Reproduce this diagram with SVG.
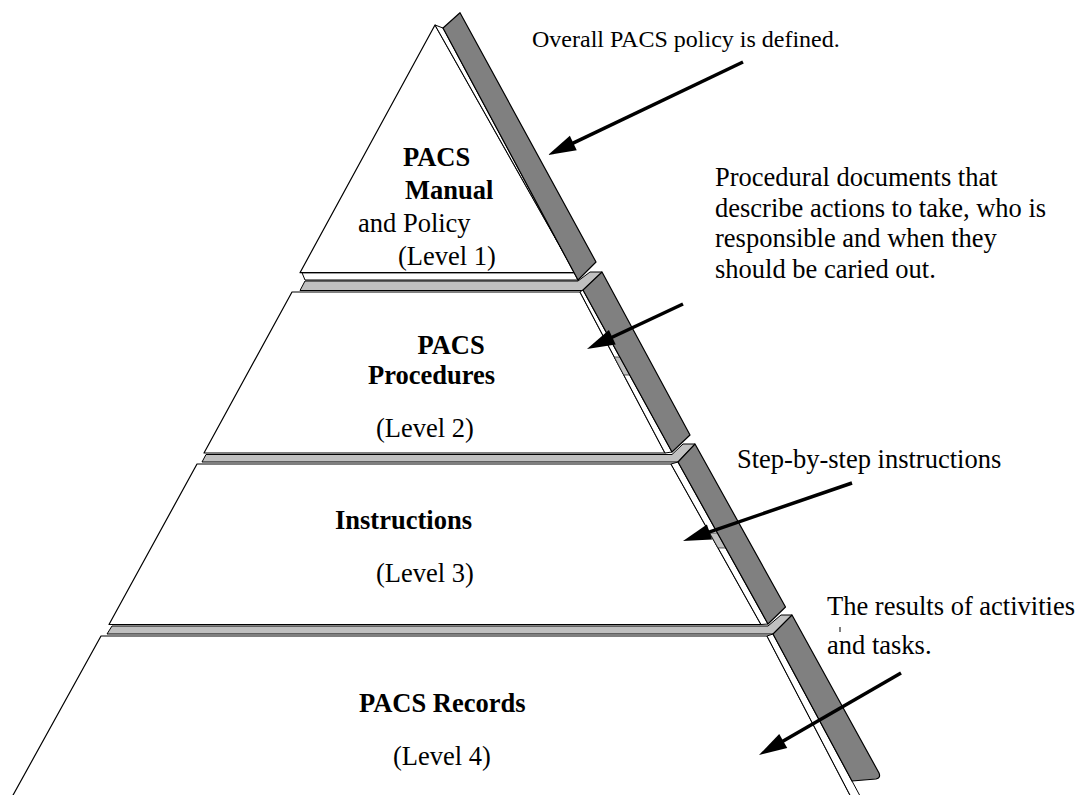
<svg xmlns="http://www.w3.org/2000/svg" width="1081" height="795" viewBox="0 0 1081 795">
<defs>
<style>
.face{fill:#fff;stroke:#000;stroke-width:1.2;stroke-linejoin:round}
.side{fill:#fff;stroke:#000;stroke-width:1}
.slab{fill:#808080;stroke:#000;stroke-width:1.2;stroke-linejoin:round}
.band{fill:#c0c0c0;stroke:#000;stroke-width:1;stroke-linejoin:round}
.patch{fill:#c0c0c0;stroke:#000;stroke-width:0.6}
text{font-family:"Liberation Serif","Times New Roman",serif;font-size:26.5px;fill:#000}
.b{font-weight:bold}
.s{font-size:24px}
.arr{stroke:#000;stroke-width:3.5;fill:none}
</style>
<marker id="ah" markerUnits="userSpaceOnUse" markerWidth="30" markerHeight="16" refX="2" refY="8" orient="auto" overflow="visible">
<path d="M0,0 L28,8 L0,16 Z" fill="#000"/>
</marker>
</defs>
<rect width="1081" height="795" fill="#fff"/>

<g id="bands">
<polygon class="band" points="305,281 578,281 590,272 602,272 583,290.5 300,290.5"/>
<polygon class="band" points="206,454.5 672,454.5 683,444 695,444 678,462 202,462"/>
<polygon class="band" points="112,626 768,626 781,615 792,615 773,634 107,634"/>
</g>

<g id="level1">
<polygon class="side" points="302,272.7 575,272.7 578,280 305,280"/>
<polygon class="face" points="435,25 300,272.7 575,272.7"/>
<polygon class="side" points="435,25 443,28 578,280 575,272.7"/>
<polygon class="slab" points="443,28 460,12.7 596,262 578,280"/>
<text class="b" x="403" y="166">PACS</text>
<text class="b" x="405" y="199">Manual</text>
<text x="358" y="232">and Policy</text>
<text x="398" y="265">(Level 1)</text>
</g>

<g id="level2">
<polygon class="face" points="292,292 580,292 665,453 204,453"/>
<polygon class="side" points="580,292 583,290 672,452 665,453"/>
<polygon class="patch" points="614.3,357 619.8,357 629.7,375 623.8,375"/>
<polygon class="slab" points="583,290 602,272 690,435 672,452"/>
<text class="b" x="417.5" y="354">PACS</text>
<text class="b" x="368" y="384">Procedures</text>
<text x="376" y="437">(Level 2)</text>
</g>

<g id="level3">
<polygon class="face" points="197,464 671,464 761,624.5 109,624.5"/>
<polygon class="side" points="671,464 678,462 768,624 761,624.5"/>
<polygon class="patch" points="709.7,533 717.4,533 725.8,548 718.1,548"/>
<polygon class="slab" points="678,462 695,444 785.5,607 768,624"/>
<text class="b" x="335" y="529">Instructions</text>
<text x="376" y="582">(Level 3)</text>
</g>

<g id="level4">
<polygon class="face" points="101,636 767,636 851,797 12,797"/>
<polygon class="side" points="767,636 773,634 860.6,797 851,797"/>
<path class="slab" d="M773,634 L792,615 L879,773 Q881,778 876,779 L852,781 Z"/>
<text class="b" x="359" y="712">PACS Records</text>
<text x="393" y="765">(Level 4)</text>
</g>

<g id="note1">
<text class="s" x="532" y="47">Overall PACS policy is defined.</text>
</g>
<g id="note2">
<text x="715" y="186">Procedural documents that</text>
<text x="715" y="216.5">describe actions to take, who is</text>
<text x="715" y="247">responsible and when they</text>
<text x="715" y="277.5">should be caried out.</text>
</g>
<g id="note3">
<text x="737" y="468">Step-by-step instructions</text>
</g>
<g id="note4">
<text x="827" y="615">The results of activities</text>
<line x1="840" y1="627" x2="840" y2="632" stroke="#000" stroke-width="1"/>
<text x="827" y="654">and tasks.</text>
</g>

<g id="connectors">
<line class="arr" x1="743" y1="62" x2="571.5" y2="143.8" marker-end="url(#ah)"/>
<line class="arr" x1="683" y1="304" x2="610.5" y2="338" marker-end="url(#ah)"/>
<line class="arr" x1="852" y1="483" x2="707.6" y2="532.6" marker-end="url(#ah)"/>
<line class="arr" x1="901" y1="673" x2="781.5" y2="742" marker-end="url(#ah)"/>
</g>
</svg>
